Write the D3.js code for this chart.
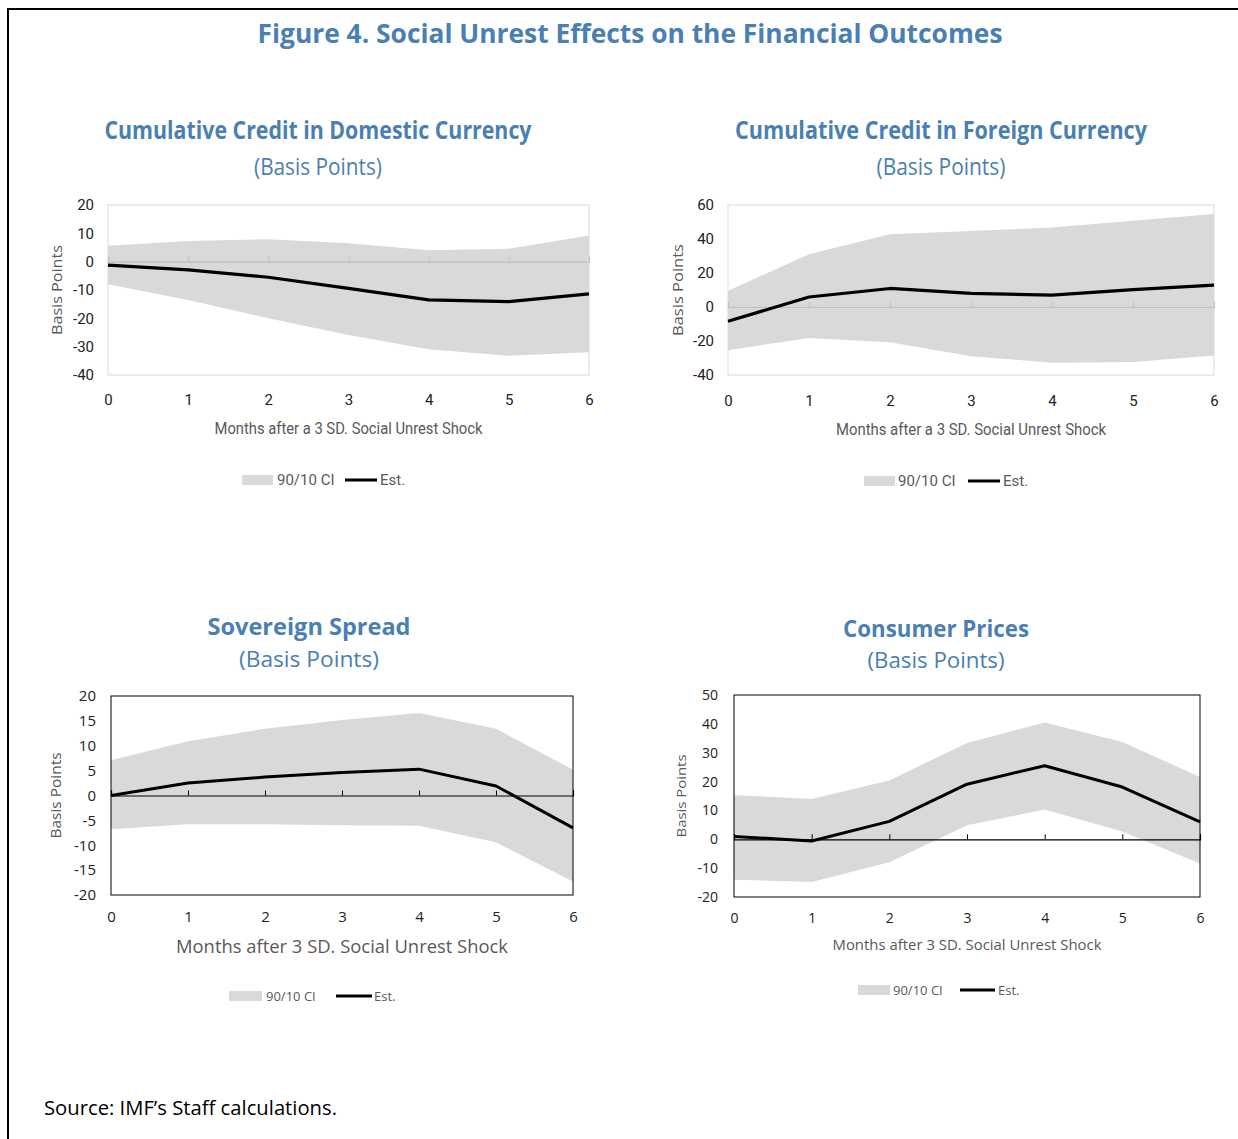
<!DOCTYPE html>
<html>
<head>
<meta charset="utf-8">
<script src="https://cdn.jsdelivr.net/npm/d3@7"></script>
<style>
  html, body { margin: 0; padding: 0; background: #fff; }
  svg { display: block; }
</style>
</head>
<body>
<svg id="chart" width="1238" height="1139"></svg>
<script>
// ---------- DATA ----------
const months = [0, 1, 2, 3, 4, 5, 6];

// Cumulative Credit in Domestic Currency
const domEst = [-1.2, -2.9, -5.5, -9.4, -13.5, -14.1, -11.4];
const domLo  = [-8.0, -13.5, -20.0, -25.9, -30.9, -33.2, -32.0];
const domHi  = [5.6, 7.3, 7.9, 6.5, 4.0, 4.6, 9.2];
const domYTicks = [20, 10, 0, -10, -20, -30, -40];

// Cumulative Credit in Foreign Currency
const forEst = [-8.4, 5.9, 10.9, 8.0, 7.0, 10.2, 12.9];
const forLo  = [-25.4, -18.2, -20.7, -28.9, -32.8, -32.4, -28.5];
const forHi  = [9.6, 31.0, 42.8, 44.7, 46.7, 50.8, 54.7];
const forYTicks = [60, 40, 20, 0, -20, -40];

// Sovereign Spread
const sovEst = [0.0, 2.5, 3.7, 4.6, 5.3, 1.9, -6.5];
const sovLo  = [-6.8, -5.8, -5.8, -6.0, -6.1, -9.4, -17.3];
const sovHi  = [7.1, 10.9, 13.4, 15.2, 16.6, 13.4, 5.2];
const sovYTicks = [20, 15, 10, 5, 0, -5, -10, -15, -20];

// Consumer Prices
const cpiEst = [1.0, -0.6, 6.2, 19.1, 25.5, 18.1, 6.0];
const cpiLo  = [-14.0, -14.8, -8.0, 4.9, 10.3, 2.7, -8.4];
const cpiHi  = [15.3, 14.0, 20.4, 33.4, 40.5, 33.7, 21.6];
const cpiYTicks = [50, 40, 30, 20, 10, 0, -10, -20];

const figTitle = "Figure 4. Social Unrest Effects on the Financial Outcomes";
const panelTitles = ["Cumulative Credit in Domestic Currency", "Cumulative Credit in Foreign Currency", "Sovereign Spread", "Consumer Prices"];
const subTitle = "(Basis Points)";
const xTitles = ["Months after a 3 SD. Social Unrest Shock", "Months after a 3 SD. Social Unrest Shock", "Months after 3 SD. Social Unrest Shock", "Months after 3 SD. Social Unrest Shock"];
const yTitle = "Basis Points";
const legendLabels = ["90/10 CI", "Est."];
const sourceText = "Source: IMF\u2019s Staff calculations.";

// ---------- LAYOUT ----------
const BLUE = "#4a7fb3";
const svg = d3.select("#chart");
const fmt = d => String(d);   // plain hyphen minus, as in the original

// frame
svg.append("line").attr("x1", 8).attr("x2", 1238).attr("y1", 9).attr("y2", 9)
  .attr("stroke", "#000").attr("stroke-width", 2);
svg.append("line").attr("x1", 8).attr("x2", 8).attr("y1", 8).attr("y2", 1139)
  .attr("stroke", "#000").attr("stroke-width", 2);

svg.append("text").attr("x", 630).attr("y", 43).attr("text-anchor", "middle")
  .attr("font-family", "Open Sans, sans-serif").attr("font-weight", "bold")
  .attr("font-size", 27).attr("fill", BLUE)
  .attr("textLength", 745).attr("lengthAdjust", "spacingAndGlyphs")
  .text(figTitle);

svg.append("text").attr("x", 44).attr("y", 1115)
  .attr("font-family", "Open Sans, sans-serif").attr("font-size", 20).attr("fill", "#000")
  .attr("textLength", 293).attr("lengthAdjust", "spacingAndGlyphs")
  .text(sourceText);

const panels = [
  { est: domEst, lo: domLo, hi: domHi, yTicks: domYTicks, title: panelTitles[0], xTitle: xTitles[0],
    px0: 108, px1: 589, py0: 205, py1: 375, light: true,
    tcx: 318, tY: 139, tW: 427, tFs: 25, sY: 175, sW: 128, sFs: 24,
    ylx: 94, xly: 405, tickFs: 15, xtY: 434, xtW: 268, xtFs: 16, ytX: 62, ytLen: 90, ytFs: 14,
    lgY: 480, lgRx: 242, lgRw: 31, lgTx: 277, lgLx: 345, lgLw: 32, lgEx: 380, lgFs: 15, font: "Roboto, sans-serif" },
  { est: forEst, lo: forLo, hi: forHi, yTicks: forYTicks, title: panelTitles[1], xTitle: xTitles[1],
    px0: 728, px1: 1214, py0: 205, py1: 375, light: true,
    tcx: 941, tY: 139, tW: 412, tFs: 25, sY: 175, sW: 129, sFs: 24,
    ylx: 714, xly: 406, tickFs: 15, xtY: 435, xtW: 270, xtFs: 16, ytX: 683, ytLen: 92, ytFs: 14,
    lgY: 481, lgRx: 864, lgRw: 31, lgTx: 898, lgLx: 968, lgLw: 32, lgEx: 1003, lgFs: 15, font: "Roboto, sans-serif" },
  { est: sovEst, lo: sovLo, hi: sovHi, yTicks: sovYTicks, title: panelTitles[2], xTitle: xTitles[2],
    px0: 111, px1: 573, py0: 696, py1: 895, light: false,
    tcx: 309, tY: 635, tW: 203, tFs: 24, sY: 667, sW: 140, sFs: 22,
    ylx: 96, xly: 922, tickFs: 15, xtY: 953, xtW: 332, xtFs: 18, ytX: 61, ytLen: 86, ytFs: 14,
    lgY: 996, lgRx: 229, lgRw: 33, lgTx: 266, lgLx: 336, lgLw: 36, lgEx: 374, lgFs: 13, font: "Open Sans, sans-serif" },
  { est: cpiEst, lo: cpiLo, hi: cpiHi, yTicks: cpiYTicks, title: panelTitles[3], xTitle: xTitles[3],
    px0: 734, px1: 1200, py0: 695, py1: 897, light: false,
    tcx: 936, tY: 637, tW: 186, tFs: 23, sY: 668, sW: 137, sFs: 22,
    ylx: 718, xly: 923, tickFs: 14, xtY: 950, xtW: 269, xtFs: 15, ytX: 686, ytLen: 83, ytFs: 13,
    lgY: 990, lgRx: 858, lgRw: 32, lgTx: 893, lgLx: 960, lgLw: 35, lgEx: 998, lgFs: 13, font: "Open Sans, sans-serif" }
];

panels.forEach(p => {
  const g = svg.append("g");
  const x = d3.scaleLinear().domain([0, 6]).range([p.px0, p.px1]);
  const yMin = d3.min(p.yTicks), yMax = d3.max(p.yTicks);
  const y = d3.scaleLinear().domain([yMin, yMax]).range([p.py1, p.py0]);
  const borderColor = p.light ? "#d9d9d9" : "#000";
  const zeroColor = p.light ? "#bfbfbf" : "#000";

  // titles
  g.append("text").attr("x", p.tcx).attr("y", p.tY).attr("text-anchor", "middle")
    .attr("font-family", "Open Sans, sans-serif").attr("font-weight", "bold")
    .attr("font-size", p.tFs).attr("fill", BLUE)
    .attr("textLength", p.tW).attr("lengthAdjust", "spacingAndGlyphs").text(p.title);
  g.append("text").attr("x", p.tcx).attr("y", p.sY).attr("text-anchor", "middle")
    .attr("font-family", "Open Sans, sans-serif")
    .attr("font-size", p.sFs).attr("fill", BLUE)
    .attr("textLength", p.sW).attr("lengthAdjust", "spacingAndGlyphs").text(subTitle);

  // band
  const rows = months.map((m, i) => ({ m, lo: p.lo[i], hi: p.hi[i], est: p.est[i] }));
  g.append("path").datum(rows)
    .attr("d", d3.area().x(d => x(d.m)).y0(d => y(d.lo)).y1(d => y(d.hi)))
    .attr("fill", "#d9d9d9");

  // border
  g.append("rect").attr("x", p.px0).attr("y", p.py0)
    .attr("width", p.px1 - p.px0).attr("height", p.py1 - p.py0)
    .attr("fill", "none").attr("stroke", borderColor).attr("stroke-width", 1);

  // zero line with ticks (x axis at zero)
  const xAxis = d3.axisTop(x).tickValues(months).tickSize(5).tickFormat("");
  const ax = g.append("g").attr("transform", `translate(0,${y(0)})`).call(xAxis);
  ax.select(".domain").attr("stroke", zeroColor).attr("stroke-width", 1.2);
  ax.selectAll(".tick line").attr("stroke", zeroColor);

  // x tick labels (below plot)
  const xl = g.append("g").attr("transform", `translate(0,${p.xly})`)
    .call(d3.axisBottom(x).tickValues(months).tickSize(0).tickFormat(fmt));
  xl.select(".domain").remove();
  xl.selectAll("text").attr("font-family", p.font).attr("font-size", p.tickFs)
    .attr("fill", "#222").attr("y", 0).attr("dy", 0);

  // y tick labels
  const yl = g.append("g").attr("transform", `translate(${p.ylx},0)`)
    .call(d3.axisLeft(y).tickValues(p.yTicks).tickSize(0).tickFormat(fmt));
  yl.select(".domain").remove();
  yl.selectAll("text").attr("font-family", p.font).attr("font-size", p.tickFs)
    .attr("fill", "#222").attr("x", 0);

  // estimate line
  g.append("path").datum(rows)
    .attr("d", d3.line().x(d => x(d.m)).y(d => y(d.est)))
    .attr("fill", "none").attr("stroke", "#000").attr("stroke-width", p.light ? 3.2 : 3)
    .attr("stroke-linejoin", "round");

  // axis titles
  g.append("text").attr("x", (p.px0 + p.px1) / 2).attr("y", p.xtY).attr("text-anchor", "middle")
    .attr("font-family", p.font).attr("font-size", p.xtFs).attr("fill", "#595959")
    .attr("textLength", p.xtW).attr("lengthAdjust", "spacingAndGlyphs").text(p.xTitle);
  g.append("text")
    .attr("transform", `translate(${p.ytX},${(p.py0 + p.py1) / 2}) rotate(-90)`)
    .attr("text-anchor", "middle")
    .attr("font-family", "Open Sans, sans-serif").attr("font-size", p.ytFs).attr("fill", "#595959")
    .attr("textLength", p.ytLen).attr("lengthAdjust", "spacingAndGlyphs").text(yTitle);

  // legend
  g.append("rect").attr("x", p.lgRx).attr("y", p.lgY - 5).attr("width", p.lgRw).attr("height", 10)
    .attr("fill", "#d9d9d9");
  g.append("text").attr("x", p.lgTx).attr("y", p.lgY + 5).attr("font-family", p.font)
    .attr("font-size", p.lgFs).attr("fill", "#595959").text(legendLabels[0]);
  g.append("line").attr("x1", p.lgLx).attr("x2", p.lgLx + p.lgLw).attr("y1", p.lgY).attr("y2", p.lgY)
    .attr("stroke", "#000").attr("stroke-width", 3);
  g.append("text").attr("x", p.lgEx).attr("y", p.lgY + 5).attr("font-family", p.font)
    .attr("font-size", p.lgFs).attr("fill", "#595959").text(legendLabels[1]);
});
</script>
</body>
</html>
